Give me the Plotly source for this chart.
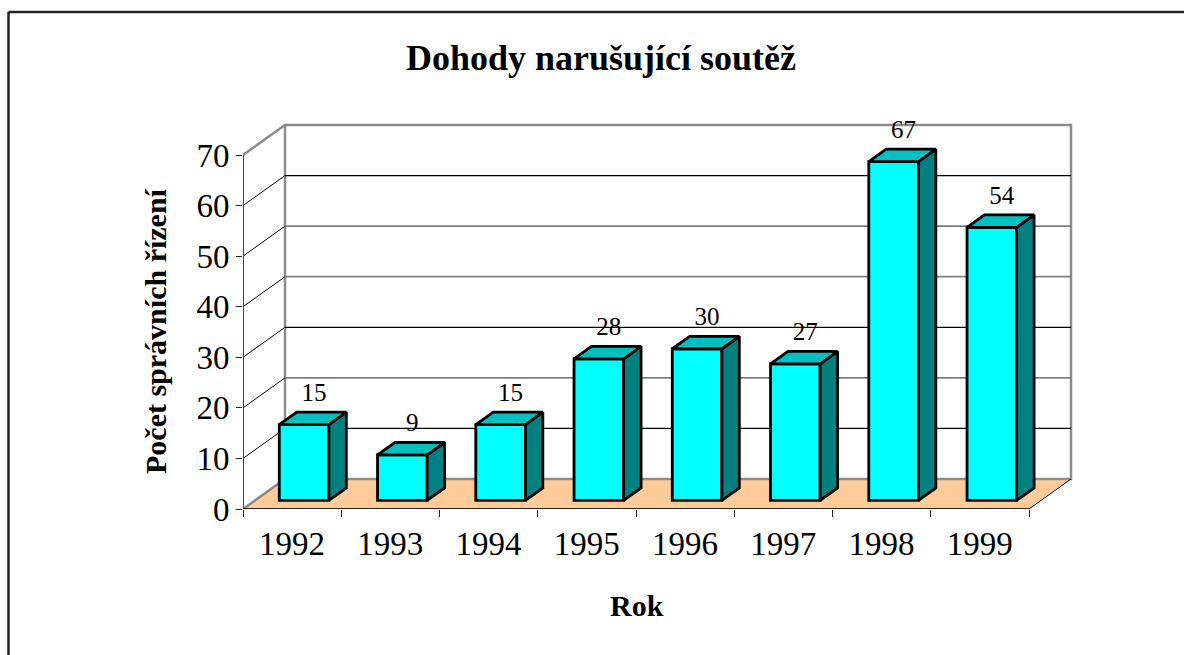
import plotly.graph_objects as go

# ---------------- data ----------------
years = ["1992", "1993", "1994", "1995", "1996", "1997", "1998", "1999"]
counts = [15, 9, 15, 28, 30, 27, 67, 54]
y_ticks = [0, 10, 20, 30, 40, 50, 60, 70]

title_text = "Dohody narušující soutěž"
x_title = "Rok"
y_title = "Počet správních řízení"

# ---------------- geometry (pixels) ----------------
W, H = 1184, 655
L_PX = 243          # left of front plane
T_WALL = 125        # top of back wall
CAT_PX = 98.25      # width of one category on front plane
UNIT_PX = 354 / 70  # pixels per value unit
DEPTH_PX = (42, 30) # oblique depth offset (right, up)
PAD = 4             # extra room so wall edges are not clipped
YMAX = y_ticks[-1]

n = len(years)
plot_w = n * CAT_PX + DEPTH_PX[0] + PAD
plot_h = YMAX * UNIT_PX + DEPTH_PX[1] + PAD
T_PX = T_WALL - PAD
R_PX = W - L_PX - plot_w
B_PX = H - T_PX - plot_h

dxu = DEPTH_PX[0] / CAT_PX
dyu = DEPTH_PX[1] / UNIT_PX
x0, x1 = -0.5, n - 0.5
x_max = x1 + (DEPTH_PX[0] + PAD) / CAT_PX
y_max = YMAX + (DEPTH_PX[1] + PAD) / UNIT_PX


def pxx(px):
    return (px - L_PX) / plot_w


def pxy(py):
    return (T_PX + plot_h - py) / plot_h


FONT = "Liberation Serif, Times New Roman, serif"
CYAN = "#00FFFF"
TOP = "#00C0C0"
SIDE = "#008080"
FLOOR = "#FFCC99"
WALL_EDGE = "#8C8C8C"

shapes = []
# floor
shapes.append(dict(type="path", layer="below", xref="x", yref="y",
                   path=f"M {x0},0 L {x1},0 L {x1+dxu},{dyu} L {x0+dxu},{dyu} Z",
                   fillcolor=FLOOR, line=dict(width=0)))
# back wall
shapes.append(dict(type="rect", layer="below", xref="x", yref="y",
                   x0=x0 + dxu, x1=x1 + dxu, y0=dyu, y1=YMAX + dyu,
                   fillcolor="white", line=dict(color=WALL_EDGE, width=2.5)))
# gridlines on back wall and side wall
grid_cols = {10: "#000000", 20: "#7F7F7F", 30: "#000000", 40: "#7F7F7F",
             50: "#7F7F7F", 60: "#000000"}
for v in y_ticks[1:-1]:
    c = grid_cols.get(v, "#000000")
    shapes.append(dict(type="line", layer="below", xref="x", yref="y",
                       x0=x0 + dxu, x1=x1 + dxu, y0=v + dyu, y1=v + dyu,
                       line=dict(color=c, width=1.2 if c == "#000000" else 1.8)))
    shapes.append(dict(type="line", layer="below", xref="x", yref="y",
                       x0=x0, x1=x0 + dxu, y0=v, y1=v + dyu,
                       line=dict(color="#000000", width=1)))
# side wall top edge and floor left edge (grey)
shapes.append(dict(type="line", layer="below", xref="x", yref="y",
                   x0=x0, x1=x0 + dxu, y0=YMAX, y1=YMAX + dyu,
                   line=dict(color=WALL_EDGE, width=2.5)))
shapes.append(dict(type="line", layer="below", xref="x", yref="y",
                   x0=x0, x1=x0 + dxu, y0=0, y1=dyu,
                   line=dict(color=WALL_EDGE, width=2.5)))
# floor right edge
shapes.append(dict(type="line", layer="below", xref="x", yref="y",
                   x0=x1, x1=x1 + dxu, y0=0, y1=dyu,
                   line=dict(color="#000000", width=1)))
# front axis lines
shapes.append(dict(type="line", layer="below", xref="x", yref="y",
                   x0=x0, x1=x1, y0=0, y1=0,
                   line=dict(color="#222222", width=1.8)))
shapes.append(dict(type="line", layer="below", xref="x", yref="y",
                   x0=x0, x1=x0, y0=0, y1=YMAX,
                   line=dict(color="#333333", width=1.8)))
# outer chart frame
shapes.append(dict(type="line", xref="paper", yref="paper",
                   x0=pxx(8.5), x1=pxx(8.5), y0=pxy(12), y1=pxy(700),
                   line=dict(color="#222222", width=2.5)))
shapes.append(dict(type="line", xref="paper", yref="paper",
                   x0=pxx(8.5), x1=pxx(1200), y0=pxy(12), y1=pxy(12),
                   line=dict(color="#222222", width=2.5)))

# ---------------- bars ----------------
F1, F2 = 0.285, 0.70   # depth fractions of bar front / back
BW = 0.505             # bar width (category units)
bx = [i + F1 * dxu for i in range(n)]
base = F1 * dyu
ddx = (F2 - F1) * dxu
ddy = (F2 - F1) * dyu
OUTLINE = 2.8

fig = go.Figure()
fig.add_trace(go.Bar(x=bx, y=counts, base=base, width=BW,
                     marker=dict(color=CYAN, line=dict(color="black", width=OUTLINE)),
                     hoverinfo="skip", showlegend=False))

top_x, top_y, side_x, side_y = [], [], [], []
for c, v in zip(bx, counts):
    xl, xr = c - BW / 2, c + BW / 2
    t = base + v
    top_x += [xl, xr, xr + ddx, xl + ddx, xl, None]
    top_y += [t, t, t + ddy, t + ddy, t, None]
    side_x += [xr, xr + ddx, xr + ddx, xr, xr, None]
    side_y += [base, base + ddy, t + ddy, t, base, None]

fig.add_trace(go.Scatter(x=side_x, y=side_y, mode="lines", fill="toself",
                         fillcolor=SIDE,
                         line=dict(color="black", width=OUTLINE),
                         hoverinfo="skip", showlegend=False))
fig.add_trace(go.Scatter(x=top_x, y=top_y, mode="lines", fill="toself",
                         fillcolor=TOP,
                         line=dict(color="black", width=OUTLINE),
                         hoverinfo="skip", showlegend=False))

# value labels
fig.add_trace(go.Scatter(x=[c + 10 / CAT_PX for c in bx],
                         y=[base + v + 30 / UNIT_PX for v in counts],
                         mode="text", text=[str(v) for v in counts],
                         textposition="middle center", cliponaxis=False,
                         textfont=dict(family=FONT, size=25, color="black"),
                         hoverinfo="skip", showlegend=False))

annotations = [
    dict(text=f"<b>{title_text}</b>", xref="paper", yref="paper",
         x=pxx(601), y=pxy(58), xanchor="center", yanchor="middle",
         showarrow=False, font=dict(family=FONT, size=36, color="black")),
    dict(text=f"<b>{x_title}</b>", xref="paper", yref="paper",
         x=pxx(637), y=pxy(605), xanchor="center", yanchor="middle",
         showarrow=False, font=dict(family=FONT, size=30, color="black")),
    dict(text=f"<b>{y_title}</b>", xref="paper", yref="paper",
         x=pxx(155), y=pxy(331), xanchor="center", yanchor="middle",
         textangle=-90, showarrow=False,
         font=dict(family=FONT, size=30, color="black")),
]

fig.update_layout(
    width=W, height=H,
    margin=dict(l=L_PX, r=R_PX, t=T_PX, b=B_PX, pad=0),
    paper_bgcolor="white", plot_bgcolor="white",
    showlegend=False,
    shapes=shapes, annotations=annotations,
    font=dict(family=FONT, color="black"),
    xaxis=dict(range=[x0, x_max], tickmode="array",
               tickvals=list(range(n)), ticktext=years,
               ticks="", showgrid=False, zeroline=False, showline=False,
               tickfont=dict(family=FONT, size=33, color="black"),
               ticklabelstandoff=12,
               minor=dict(tickmode="array",
                          tickvals=[i - 0.5 for i in range(n + 1)],
                          ticks="outside", ticklen=7, tickwidth=1.2,
                          tickcolor="#222222", showgrid=False),
               fixedrange=True),
    yaxis=dict(range=[0, y_max], tickmode="array", tickvals=y_ticks,
               ticks="outside", ticklen=6, tickwidth=1.2, tickcolor="#222222",
               showgrid=False, zeroline=False, showline=False,
               tickfont=dict(family=FONT, size=33, color="black"),
               fixedrange=True),
)

fig.write_html("out.html",
               config={"displayModeBar": False},
               post_script="document.body.style.margin='0';"
                           "document.body.style.overflow='hidden';")
